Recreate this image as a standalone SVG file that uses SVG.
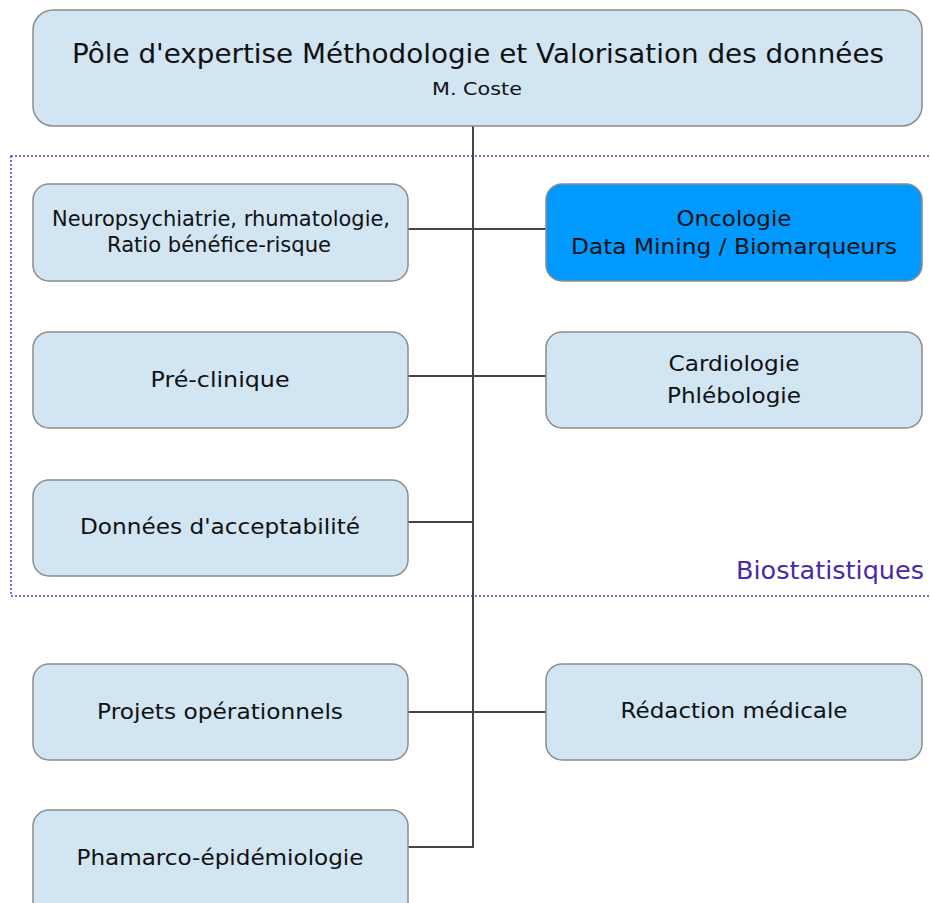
<svg xmlns="http://www.w3.org/2000/svg" width="930" height="903" viewBox="0 0 930 903">
<style>
.box{fill:#d1e5f3;stroke:#8c8c8c;stroke-width:1.5}
.hl{fill:#0099ff;stroke:#8c8c8c;stroke-width:1.5}
.t{font-family:"DejaVu Sans",Verdana,sans-serif;font-size:22px;fill:#111;text-anchor:middle}
.c{stroke:#444;stroke-width:2;fill:none}
</style>
<rect width="930" height="903" fill="#fff"/>
<rect x="11" y="156" width="925" height="440" fill="none" stroke="#5b3fb5" stroke-width="1.5" stroke-dasharray="2,2"/>
<text x="924" y="579" font-family="'DejaVu Sans',sans-serif" font-size="25" fill="#4a2aa8" text-anchor="end" textLength="188" lengthAdjust="spacingAndGlyphs">Biostatistiques</text>
<g id="connectors">
<path class="c" d="M473 126 V847 H408"/>
<path class="c" d="M408 229 H546"/>
<path class="c" d="M408 376 H546"/>
<path class="c" d="M408 522 H473"/>
<path class="c" d="M408 712 H546"/>
</g>
<g id="root">
<rect class="box" x="33" y="10" width="889" height="116" rx="20"/>
<text class="t" x="478" y="63" style="font-size:27px" textLength="812" lengthAdjust="spacingAndGlyphs">Pôle d'expertise Méthodologie et Valorisation des données</text>
<text class="t" x="477" y="95" style="font-size:17px" textLength="90" lengthAdjust="spacingAndGlyphs">M. Coste</text>
</g>
<g id="neuro">
<rect class="box" x="33" y="184" width="375" height="97" rx="16"/>
<text class="t" x="221" y="226" textLength="338" lengthAdjust="spacingAndGlyphs">Neuropsychiatrie, rhumatologie,</text>
<text class="t" x="219" y="252" textLength="224" lengthAdjust="spacingAndGlyphs">Ratio bénéfice-risque</text>
</g>
<g id="onco">
<rect class="hl" x="546" y="184" width="376" height="97" rx="16"/>
<text class="t" x="734" y="226" textLength="115" lengthAdjust="spacingAndGlyphs">Oncologie</text>
<text class="t" x="734" y="254" textLength="326" lengthAdjust="spacingAndGlyphs">Data Mining / Biomarqueurs</text>
</g>
<g id="preclinique">
<rect class="box" x="33" y="332" width="375" height="96" rx="16"/>
<text class="t" x="220" y="387" textLength="139" lengthAdjust="spacingAndGlyphs">Pré-clinique</text>
</g>
<g id="cardio">
<rect class="box" x="546" y="332" width="376" height="96" rx="16"/>
<text class="t" x="734" y="371" textLength="131" lengthAdjust="spacingAndGlyphs">Cardiologie</text>
<text class="t" x="734" y="403" textLength="134" lengthAdjust="spacingAndGlyphs">Phlébologie</text>
</g>
<g id="acceptabilite">
<rect class="box" x="33" y="480" width="375" height="96" rx="16"/>
<text class="t" x="220" y="534" textLength="280" lengthAdjust="spacingAndGlyphs">Données d'acceptabilité</text>
</g>
<g id="projets">
<rect class="box" x="33" y="664" width="375" height="96" rx="16"/>
<text class="t" x="220" y="719" textLength="246" lengthAdjust="spacingAndGlyphs">Projets opérationnels</text>
</g>
<g id="redaction">
<rect class="box" x="546" y="664" width="376" height="96" rx="16"/>
<text class="t" x="734" y="718" textLength="227" lengthAdjust="spacingAndGlyphs">Rédaction médicale</text>
</g>
<g id="pharmaco">
<rect class="box" x="33" y="810" width="375" height="110" rx="16"/>
<text class="t" x="220" y="865" textLength="287" lengthAdjust="spacingAndGlyphs">Phamarco-épidémiologie</text>
</g>
</svg>
